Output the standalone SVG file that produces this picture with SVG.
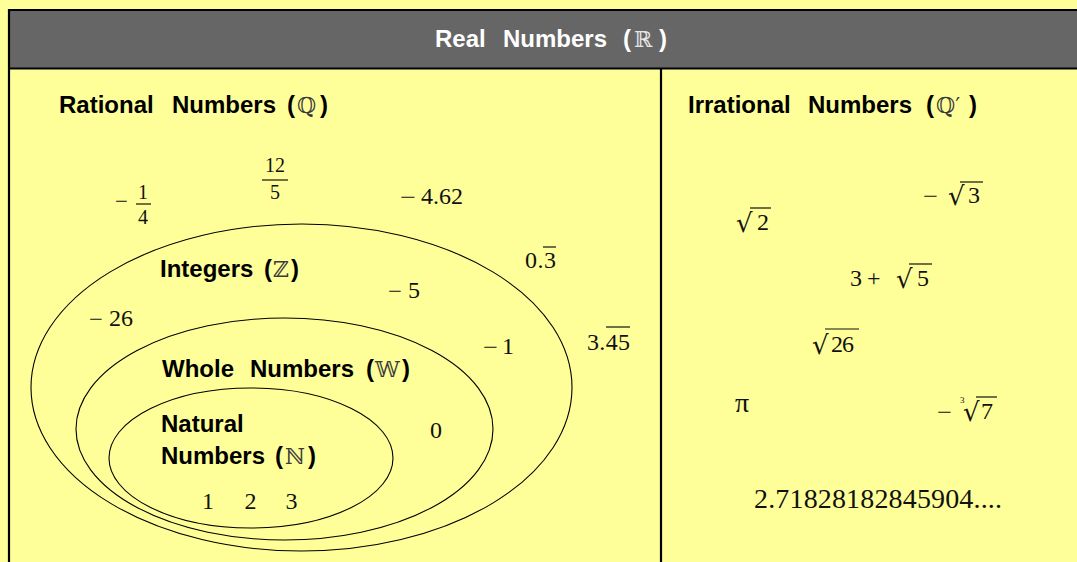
<svg xmlns="http://www.w3.org/2000/svg" width="1077" height="562" viewBox="0 0 1077 562">
<style>
.lbl{font-family:"Liberation Sans",Arial,sans-serif;font-weight:bold;font-size:24px;fill:#000}
.hd{fill:#fff}
.ds{font-family:"DejaVu Serif","DejaVu Sans",serif;font-weight:normal;font-size:22px;fill:#3a3a3a}
.hd .ds{fill:#e6e6e6}
.m{font-family:"Liberation Serif","DejaVu Serif",serif;font-size:24px;fill:#111}
.m.f{font-size:20px}
.m.big{font-size:28px}
.m.pi{font-size:28px}
.m.idx{font-size:9px}
.rad{font-family:"DejaVu Serif",serif;font-size:26px;fill:#111}
.bar{stroke:#111;stroke-width:1.2}
.ell{fill:none;stroke:#000;stroke-width:1.1}
.frm{stroke:#000;stroke-width:2.2}
</style>
<rect width="1077" height="562" fill="#ffff99"/>
<g id="real">
  <rect x="9" y="10" width="1070" height="59" fill="#666666"/>
  <line class="frm" x1="9" y1="10" x2="1077" y2="10"/>
  <line class="frm" x1="9" y1="68.5" x2="1077" y2="68.5"/>
  <line class="frm" x1="9" y1="9" x2="9" y2="562"/>
  <line class="frm" x1="661" y1="68.5" x2="661" y2="562"/>
  <text class="lbl hd"><tspan x="435" y="47">Real</tspan><tspan x="503" y="47">Numbers</tspan><tspan x="623" y="47">(</tspan><tspan class="ds" x="634" y="47">ℝ</tspan><tspan x="659" y="47">)</tspan></text>
</g>
<g id="rational">
  <text class="lbl"><tspan x="59" y="113">Rational</tspan><tspan x="172" y="113">Numbers</tspan><tspan x="287" y="113">(</tspan><tspan class="ds" x="297" y="113">ℚ</tspan><tspan x="320" y="113">)</tspan></text>
  <text class="m" x="115" y="209" textLength="13" lengthAdjust="spacingAndGlyphs">−</text>
  <text class="m f" x="143" y="199" text-anchor="middle">1</text>
  <line class="bar" x1="136" y1="204" x2="151" y2="204"/>
  <text class="m f" x="143" y="224" text-anchor="middle">4</text>
  <text class="m f" x="275" y="172" text-anchor="middle">12</text>
  <line class="bar" x1="262" y1="180" x2="288" y2="180"/>
  <text class="m f" x="275" y="199" text-anchor="middle">5</text>
  <text class="m" x="400" y="205" textLength="16" lengthAdjust="spacingAndGlyphs">−</text>
  <text class="m" x="421" y="204" textLength="42">4.62</text>
  <text class="m" x="525" y="268" textLength="31">0.3</text>
  <line class="bar" x1="543" y1="247" x2="556" y2="247"/>
  <text class="m" x="587" y="350" textLength="43">3.45</text>
  <line class="bar" x1="606" y1="327" x2="630" y2="327"/>
</g>
<g id="integers">
  <ellipse class="ell" cx="301.5" cy="387.5" rx="270.5" ry="163.5"/>
  <text class="lbl"><tspan x="160" y="277">Integers</tspan><tspan x="264" y="277">(</tspan><tspan class="ds" x="273" y="277">ℤ</tspan><tspan x="291" y="277">)</tspan></text>
  <text class="m" x="388" y="299" textLength="14" lengthAdjust="spacingAndGlyphs">−</text>
  <text class="m" x="408" y="298">5</text>
  <text class="m" x="89" y="327" textLength="14" lengthAdjust="spacingAndGlyphs">−</text>
  <text class="m" x="109" y="326">26</text>
  <text class="m" x="483" y="355" textLength="15" lengthAdjust="spacingAndGlyphs">−</text>
  <text class="m" x="502" y="354">1</text>
</g>
<g id="whole">
  <ellipse class="ell" cx="284.5" cy="429" rx="208.5" ry="111"/>
  <text class="lbl"><tspan x="162" y="377">Whole</tspan><tspan x="250" y="377">Numbers</tspan><tspan x="366" y="377">(</tspan><tspan class="ds" x="375" y="377">𝕎</tspan><tspan x="402" y="377">)</tspan></text>
  <text class="m" x="436" y="438" text-anchor="middle">0</text>
</g>
<g id="natural">
  <ellipse class="ell" cx="251" cy="458" rx="142" ry="70"/>
  <text class="lbl"><tspan x="161" y="432">Natural</tspan><tspan x="161" y="464">Numbers</tspan><tspan x="275" y="464">(</tspan><tspan class="ds" x="285" y="464">ℕ</tspan><tspan x="308" y="464">)</tspan></text>
  <text class="m" x="208" y="509" text-anchor="middle">1</text>
  <text class="m" x="250.5" y="509" text-anchor="middle">2</text>
  <text class="m" x="291.5" y="509" text-anchor="middle">3</text>
</g>
<g id="irrational">
  <text class="lbl"><tspan x="688" y="113">Irrational</tspan><tspan x="808" y="113">Numbers</tspan><tspan x="926" y="113">(</tspan><tspan class="ds" x="936" y="113">ℚ′</tspan><tspan x="969" y="113">)</tspan></text>
  <text class="rad" x="736" y="232">√</text>
  <text class="m" x="757" y="230">2</text>
  <line class="bar" x1="750" y1="208" x2="771" y2="208"/>
  <text class="m" x="923" y="204" textLength="15" lengthAdjust="spacingAndGlyphs">−</text>
  <text class="rad" x="948" y="205">√</text>
  <text class="m" x="968" y="203">3</text>
  <line class="bar" x1="960" y1="182" x2="983" y2="182"/>
  <text class="m" x="850" y="286">3</text>
  <text class="m" x="867" y="286">+</text>
  <text class="rad" x="896" y="288">√</text>
  <text class="m" x="917" y="286">5</text>
  <line class="bar" x1="909" y1="264" x2="932" y2="264"/>
  <text class="rad" x="812" y="354">√</text>
  <text class="m" x="831" y="352" textLength="23">26</text>
  <line class="bar" x1="825" y1="329" x2="859" y2="329"/>
  <text class="m pi" x="735" y="412">π</text>
  <text class="m" x="937" y="420" textLength="15" lengthAdjust="spacingAndGlyphs">−</text>
  <text class="m idx" x="960" y="403">3</text>
  <text class="rad" x="963" y="421">√</text>
  <text class="m" x="981" y="419">7</text>
  <line class="bar" x1="976" y1="397" x2="997" y2="397"/>
  <text class="m big" x="754" y="508" textLength="248">2.71828182845904....</text>
</g>
</svg>
